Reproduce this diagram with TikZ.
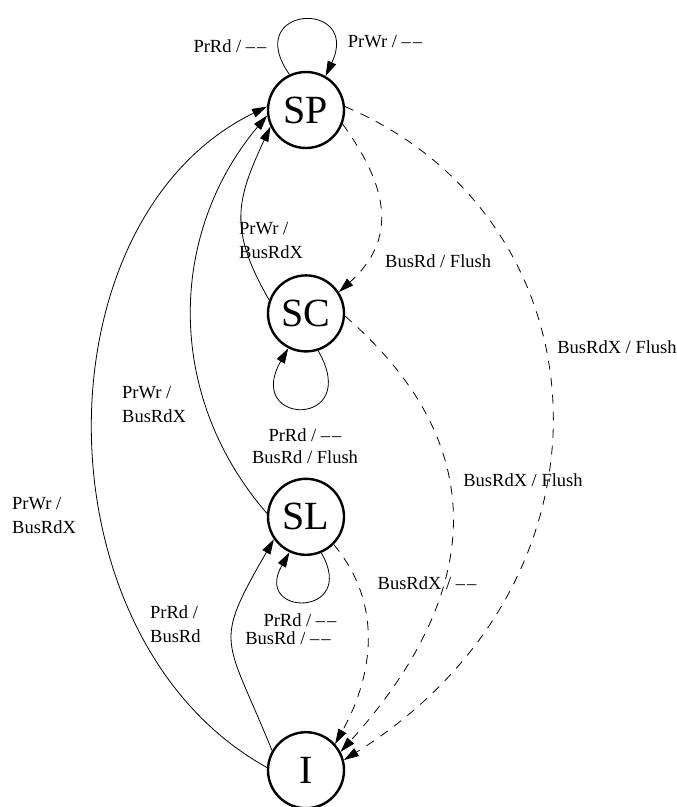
\documentclass[tikz,border=0pt]{standalone}
\usepackage{fontspec}
\setmainfont{Liberation Serif}
\usepackage{tikz}
\usetikzlibrary{arrows.meta, positioning}

\begin{document}
\begin{tikzpicture}[
    x=1pt, y=1pt,
    node distance=125pt,
    state/.style={circle, draw, line width=2.4pt, minimum size=76pt, inner sep=0pt, font=\fontsize{40}{44}\selectfont},
    lbl/.style={inner sep=0pt, font=\fontsize{18.5}{24}\selectfont},
    arrow/.style={-{Triangle[length=15pt,width=9pt]}, line width=0.8pt},
    snoop/.style={arrow, dash pattern=on 9pt off 8pt}
]
\useasboundingbox (0,0) rectangle (677,-807);
\newcommand{\nop}{--\kern2pt--}

% Nodes
\node[state] (sp) at (306,-110) {SP};
\node[state, below=of sp] (sc) {SC};
\node[state, below=of sc] (sl) {SL};
\node[state, below=175pt of sl] (inv) {I};

% Labels
\node[lbl] (rd-sp) at (230,-46) {PrRd / \nop};
\node[lbl] (wr-sp) at (385,-42) {PrWr / \nop};
\node[lbl, align=left, anchor=west] (wr-sc) at (239,-240) {PrWr /\\BusRdX};
\node[lbl, anchor=west] (rd-spsc) at (385,-261) {BusRd / Flush};
\node[lbl, align=center, font=\fontsize{18.5}{22}\selectfont] (rd-sc) at (305,-446) {PrRd / \nop\\BusRd / Flush};
\node[lbl, align=left, anchor=west] (wr-sl) at (122,-404) {PrWr /\\BusRdX};
\node[lbl, align=left, anchor=west] (wr-inv) at (12,-515) {PrWr /\\BusRdX};
\node[lbl, align=left, anchor=west] (rd-inv) at (150,-624) {PrRd /\\BusRd};
\node[lbl] (rd-sl) at (300,-620) {PrRd / \nop};
\node[lbl] (busrd-sl) at (288,-638) {BusRd / \nop};
\node[lbl] (rdx-sl) at (427,-583) {BusRdX / \nop};
\node[lbl] (rdx-sc) at (523,-480) {BusRdX / Flush};
\node[lbl] (rdx-sp) at (617,-347) {BusRdX / Flush};

% Arrows
\draw[arrow] (inv.176) to[out=151, in=206, out looseness=1.03, in looseness=1.0] (sp.175);
\draw[arrow] (sl.175) to[out=131, in=230] (sp.188);
\draw[arrow] (sc.160) to[out=120, in=245, looseness=1.2] (sp.205);
\draw[arrow] (inv.150) to[out=112, in=240, looseness=1.5] (sl.215);
\draw[arrow] (sp.115) to[out=125, in=65, looseness=6] (sp.60);
\draw[arrow] (sc.-72) to[out=-60, in=240, looseness=7.7] (sc.243);
\draw[arrow] (sl.-67) to[out=-60, in=240, looseness=6] (sl.245);
\draw[snoop] (sp.-21) to[out=-54, in=42, looseness=1.2] (sc.33);
\draw[snoop] (sp.5) to[out=-23, in=32, out looseness=1.12, in looseness=1.33] (inv.15);
\draw[snoop] (sc.-4) to[out=-41, in=48, looseness=1.2] (inv.28);
\draw[snoop] (sl.-45) to[out=-50, in=61] (inv.42);

\end{tikzpicture}
\end{document}
